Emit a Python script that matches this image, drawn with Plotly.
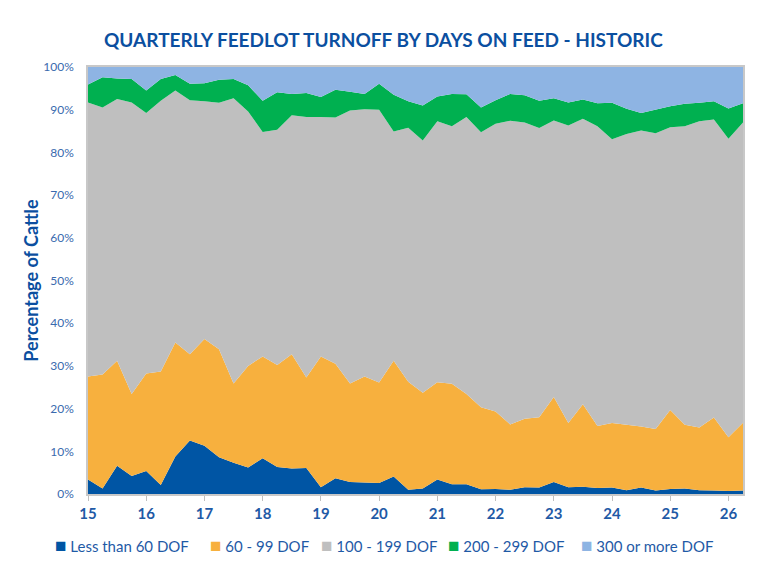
import plotly.graph_objs as go

# quarterly periods, 15.00 .. 26.25
quarters = [15 + i * 0.25 for i in range(46)]

# share of cattle turned off, % per days-on-feed band
less_60 = [3.4, 1.3, 6.6, 4.2, 5.4, 2.1, 8.8, 12.5, 11.3, 8.6, 7.3, 6.2, 8.4, 6.3, 6.0, 6.1,
           1.6, 3.7, 2.8, 2.7, 2.6, 4.1, 1.0, 1.3, 3.4, 2.3, 2.3, 1.1, 1.2, 1.0, 1.6, 1.5,
           2.8, 1.6, 1.7, 1.4, 1.5, 0.9, 1.5, 0.8, 1.2, 1.3, 0.9, 0.8, 0.7, 0.8]
d60_99 = [24.1, 26.7, 24.6, 19.2, 22.8, 26.6, 26.7, 20.2, 25.0, 25.3, 18.6, 23.8, 23.8, 23.9, 26.7, 21.2,
          30.6, 26.8, 23.1, 24.8, 23.5, 27.1, 25.3, 22.4, 22.8, 23.5, 21.1, 19.2, 18.1, 15.3, 16.0, 16.5,
          19.9, 15.0, 19.3, 14.5, 15.1, 15.3, 14.3, 14.4, 18.5, 14.9, 14.7, 17.1, 12.6, 15.9]
d100_199 = [64.2, 62.5, 61.3, 68.3, 61.0, 63.4, 59.0, 59.5, 55.7, 57.7, 66.8, 59.6, 52.6, 55.1, 56.0, 61.0,
            56.1, 57.7, 63.9, 62.6, 63.9, 53.7, 59.5, 59.1, 61.1, 60.3, 64.9, 64.4, 67.4, 71.1, 69.4, 67.7,
            64.8, 69.7, 66.9, 70.2, 66.5, 68.1, 69.3, 69.3, 66.2, 69.9, 71.7, 69.8, 69.9, 70.3]
d200_299 = [4.2, 7.1, 4.8, 5.5, 5.3, 5.1, 3.6, 3.9, 4.2, 5.4, 4.5, 6.1, 7.3, 8.8, 5.0, 5.6,
            4.7, 6.5, 4.4, 3.6, 6.1, 8.6, 6.2, 8.2, 5.8, 7.6, 5.3, 5.8, 5.5, 6.3, 6.4, 6.4,
            5.2, 5.4, 4.5, 5.4, 8.5, 5.9, 4.1, 5.5, 4.9, 5.3, 4.3, 4.3, 7.1, 4.5]
d300_plus = [4.1, 2.4, 2.7, 2.8, 5.5, 2.8, 1.9, 3.9, 3.8, 3.0, 2.8, 4.3, 7.9, 5.9, 6.3, 6.1,
             7.0, 5.3, 5.8, 6.3, 3.9, 6.5, 8.0, 9.0, 6.9, 6.3, 6.4, 9.5, 7.8, 6.3, 6.6, 7.9,
             7.3, 8.3, 7.6, 8.5, 8.4, 9.8, 10.8, 10.0, 9.2, 8.6, 8.4, 8.0, 9.7, 8.5]

x_ticks = list(range(15, 27))
y_ticks = list(range(0, 101, 10))
y_labels = [f'{v}%' for v in y_ticks]

bands = [
    ('Less than 60 DOF', less_60, '#0055A4'),
    ('60 - 99 DOF', d60_99, '#F7B03E'),
    ('100 - 199 DOF', d100_199, '#BFBFBF'),
    ('200 - 299 DOF', d200_299, '#00B050'),
    ('300 or more DOF', d300_plus, '#8EB4E3'),
]
# left edge of each legend entry (paper fraction)
legend_x = [-0.053, 0.183, 0.353, 0.547, 0.750]

font_name = 'Lato, Open Sans, sans-serif'

fig = go.Figure()
for name, vals, colour in bands:
    fig.add_trace(go.Scatter(x=quarters, y=vals, name=name, mode='lines', stackgroup='one',
                             groupnorm='percent', line=dict(width=0, color=colour),
                             fillcolor=colour, showlegend=False))

# legend row drawn as text with coloured squares
for (name, vals, colour), lx in zip(bands, legend_x):
    fig.add_annotation(x=lx, y=-0.118, xref='paper', yref='paper', xanchor='left',
                       yanchor='middle', showarrow=False,
                       text=f"<span style='color:{colour};font-size:19px'>■</span> {name}",
                       font=dict(size=15, color='#1F5AA6', family=font_name))

fig.update_layout(
    width=782, height=570,
    margin=dict(l=80, r=47, t=59, b=84),
    paper_bgcolor='white', plot_bgcolor='white',
    font=dict(family=font_name, color='#1F5AA6'),
    title=dict(text='<b>QUARTERLY FEEDLOT TURNOFF BY DAYS ON FEED - HISTORIC</b>',
               x=0.48, xref='container', xanchor='center', y=0.944, yref='container',
               yanchor='middle', font=dict(size=19, color='#0B4FA0', family=font_name)),
    showlegend=False,
)

fig.update_xaxes(range=[15, 26.25], tickvals=x_ticks, ticks='outside', ticklen=5,
                 tickcolor='#BFBFBF', showgrid=False, zeroline=False, showline=True,
                 linecolor='#C8C8C8', linewidth=1.5, mirror=True, ticklabelstandoff=0,
                 tickfont=dict(size=15, color='#1F5AA6', family=font_name, weight='bold'))
fig.update_yaxes(range=[0, 100], tickvals=y_ticks, ticktext=y_labels,
                 showgrid=False, zeroline=False, showline=True, linecolor='#C8C8C8',
                 linewidth=1.5, mirror=True, ticks='', ticklabelstandoff=10,
                 tickfont=dict(size=12, color='#3A6AAE', family=font_name),
                 title=dict(text='<b>Percentage of Cattle</b>', standoff=0,
                            font=dict(size=18, color='#0B4FA0', family=font_name)))

fig.write_html('out.html')
